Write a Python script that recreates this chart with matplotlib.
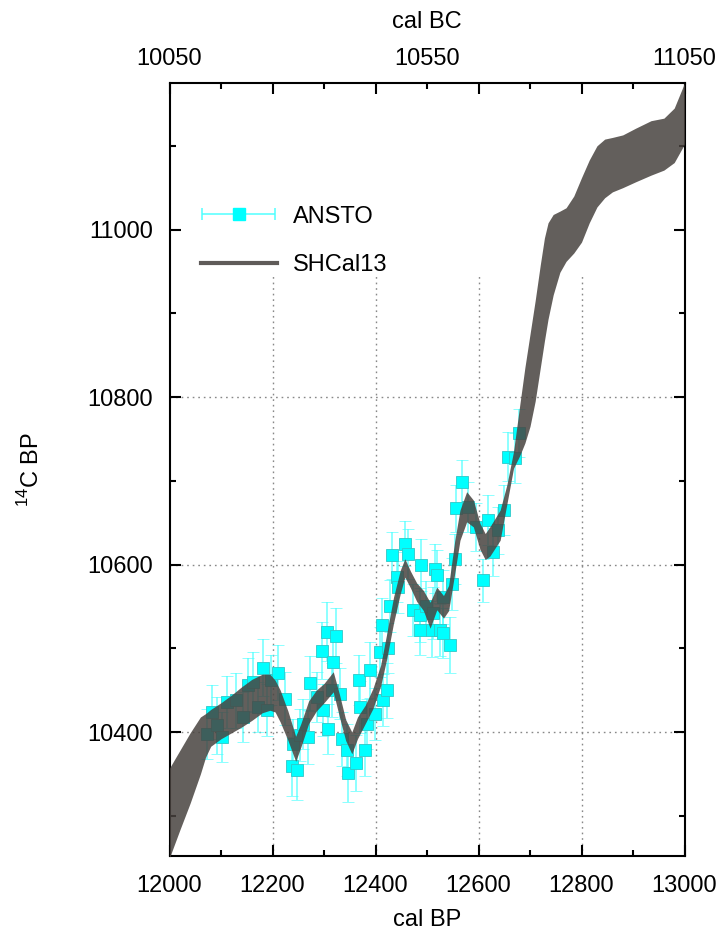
import numpy as np
import matplotlib
matplotlib.use("Agg")
import matplotlib.pyplot as plt
from matplotlib.ticker import MultipleLocator, FixedLocator
from matplotlib.lines import Line2D
from matplotlib.legend_handler import HandlerErrorbar

plt.rcParams['font.family'] = ['Liberation Sans', 'DejaVu Sans']

# ---------------- data ----------------
# SHCal13 1-sigma band (cal BP, upper and lower 14C BP)
cal_x = [12000, 12020, 12040, 12060, 12070, 12080, 12100, 12120, 12140, 12160,
         12180, 12195, 12205, 12215, 12230, 12245, 12255, 12270, 12285, 12300,
         12318, 12330, 12342, 12354, 12365, 12380, 12395, 12410, 12422, 12435,
         12448, 12457, 12468, 12480, 12493, 12506, 12519, 12532, 12542, 12554,
         12564, 12577, 12590, 12603, 12613, 12622, 12642, 12655, 12668, 12680,
         12690, 12700, 12710, 12720, 12728, 12735, 12745, 12758, 12770, 12785,
         12800, 12815, 12830, 12845, 12860, 12880, 12905, 12935, 12960, 12980,
         13000]
cal_upper = [10357, 10378, 10399, 10418, 10422, 10427, 10435, 10444, 10454, 10463,
             10469, 10469, 10462, 10450, 10425, 10395, 10410, 10437, 10450, 10458,
             10472, 10445, 10415, 10400, 10418, 10432, 10452, 10480, 10518, 10561,
             10593, 10607, 10592, 10578, 10569, 10555, 10573, 10563, 10575, 10629,
             10665, 10687, 10677, 10649, 10637, 10645, 10665, 10695, 10735, 10790,
             10835, 10875, 10915, 10958, 10990, 11008, 11018, 11022, 11026, 11040,
             11062, 11083, 11100, 11108, 11110, 11113, 11121, 11130, 11133, 11145,
             11175]
cal_lower = [10250, 10283, 10315, 10350, 10370, 10383, 10392, 10399, 10406, 10414,
             10423, 10426, 10424, 10412, 10390, 10365, 10382, 10410, 10425, 10435,
             10448, 10418, 10390, 10374, 10392, 10410, 10428, 10455, 10488, 10530,
             10565, 10585, 10572, 10556, 10545, 10524, 10546, 10536, 10545, 10590,
             10629, 10651, 10645, 10618, 10606, 10610, 10629, 10672, 10715, 10730,
             10745, 10765, 10795, 10835, 10867, 10893, 10922, 10949, 10962, 10972,
             10985, 11008, 11027, 11038, 11045, 11050, 11057, 11065, 11071, 11080,
             11102]

# ANSTO measurements
ansto_x = [12072, 12082, 12092, 12101, 12111, 12130, 12143, 12153, 12163, 12172,
           12181, 12189, 12198, 12211, 12224, 12237, 12240, 12247, 12253, 12260,
           12269, 12272, 12286, 12296, 12299, 12305, 12308, 12315, 12318, 12323,
           12331, 12334, 12344, 12347, 12363, 12367, 12370, 12380, 12383, 12389,
           12399, 12409, 12412, 12415, 12422, 12425, 12428, 12433, 12441, 12444,
           12457, 12463, 12473, 12486, 12486, 12489, 12499, 12509, 12512, 12515,
           12520, 12525, 12532, 12532, 12544, 12548, 12554, 12557, 12568, 12580,
           12596, 12609, 12619, 12629, 12638, 12650, 12658, 12671, 12679]
ansto_y = [10398, 10424, 10408, 10394, 10436, 10438, 10418, 10456, 10460, 10430,
           10477, 10426, 10462, 10471, 10440, 10359, 10386, 10355, 10396, 10410,
           10394, 10458, 10442, 10497, 10426, 10520, 10404, 10450, 10484, 10515,
           10446, 10392, 10379, 10351, 10363, 10462, 10430, 10379, 10410, 10474,
           10422, 10496, 10528, 10438, 10450, 10500, 10550, 10611, 10585, 10573,
           10625, 10613, 10546, 10540, 10522, 10599, 10550, 10522, 10542, 10595,
           10587, 10522, 10561, 10518, 10504, 10577, 10607, 10667, 10698, 10669,
           10645, 10581, 10653, 10615, 10641, 10665, 10729, 10727, 10757]
ansto_err = [30, 32, 34, 30, 31, 33, 30, 32, 35, 30,
             34, 31, 30, 33, 32, 35, 30, 36, 31, 30,
             32, 33, 30, 34, 31, 35, 30, 32, 31, 33,
             30, 32, 31, 34, 33, 30, 31, 32, 30, 33,
             31, 30, 32, 31, 33, 30, 31, 28, 30, 31,
             27, 30, 31, 32, 30, 31, 30, 32, 31, 29,
             30, 31, 32, 30, 33, 31, 30, 28, 27, 30,
             29, 26, 30, 29, 28, 30, 29, 30, 29]

bp_major = [12000, 12200, 12400, 12600, 12800, 13000]
bc_ticks = [10050, 10550, 11050]
c14_major = [10400, 10600, 10800, 11000]
grid_x = [12200, 12400, 12600, 12800]
grid_y = [10400, 10600, 10800]

# ---------------- figure ----------------
fig = plt.figure(figsize=(7.26, 9.35), dpi=100)
ax = fig.add_axes([169.5 / 726, 79 / 935, 515 / 726, 773 / 935])
ax.set_xlim(12000, 13000)
ax.set_ylim(10252, 11175)

grid_top = 10944
ax.vlines(grid_x, 10252, grid_top, colors='#888888', linestyles=(0, (1.2, 2.8)),
          linewidth=1.0, zorder=0)
ax.hlines(grid_y, 12000, 13000, colors='#888888', linestyles=(0, (1.2, 2.8)),
          linewidth=1.0, zorder=0)

ax.errorbar(ansto_x, ansto_y, yerr=ansto_err, fmt='s', ms=8.5,
            mfc='#00ffff', mec='#30c8c8', mew=0.6,
            ecolor=(0.3, 1.0, 1.0, 0.75), elinewidth=1.2, capsize=4.5,
            capthick=1.2, zorder=2)

ax.fill_between(cal_x, cal_lower, cal_upper, color='#48433f', alpha=0.85,
                lw=0, zorder=3)

ax.xaxis.set_major_locator(FixedLocator(bp_major))
ax.xaxis.set_minor_locator(MultipleLocator(100))
ax.yaxis.set_major_locator(FixedLocator(c14_major))
ax.yaxis.set_minor_locator(MultipleLocator(100))
ax.tick_params(which='both', direction='in', top=True, right=True,
               width=1.5, labelsize=17, colors='black')
ax.tick_params(which='major', length=8)
ax.tick_params(which='minor', length=4)
ax.tick_params(axis='x', pad=14)
ax.tick_params(axis='y', pad=12)
for s in ax.spines.values():
    s.set_linewidth(1.5)

ax.set_xlabel('cal BP', fontsize=17, labelpad=8)
ax.set_ylabel(r'$^{\mathregular{14}}$C BP', fontsize=17, labelpad=31)

sec = ax.secondary_xaxis('top', functions=(lambda v: v - 1950, lambda v: v + 1950))
sec.set_xticks(bc_ticks)
sec.set_xticklabels([str(v) for v in bc_ticks])
sec.tick_params(length=0, pad=9, labelsize=17)
sec.spines['top'].set_visible(False)
sec.set_xlabel('cal BC', fontsize=17, labelpad=15)

# legend
proxy_eb = ax.errorbar([np.nan], [np.nan], xerr=[1], fmt='s', ms=8.5,
                       mfc='#00ffff', mec='#00ffff', ecolor=(0.3, 1.0, 1.0, 0.9),
                       elinewidth=1.2, capsize=4.5, capthick=1.2)
proxy_line = Line2D([], [], color='#5f5b59', lw=3)
ax.legend([proxy_eb, proxy_line], ['ANSTO', 'SHCal13'], loc='upper left',
          bbox_to_anchor=(0.02, 0.869), frameon=False, fontsize=17,
          handlelength=3.2, handletextpad=0.68, labelspacing=1.13,
          handler_map={type(proxy_eb): HandlerErrorbar(xerr_size=1.55)})

fig.savefig('out.png', dpi=100)
